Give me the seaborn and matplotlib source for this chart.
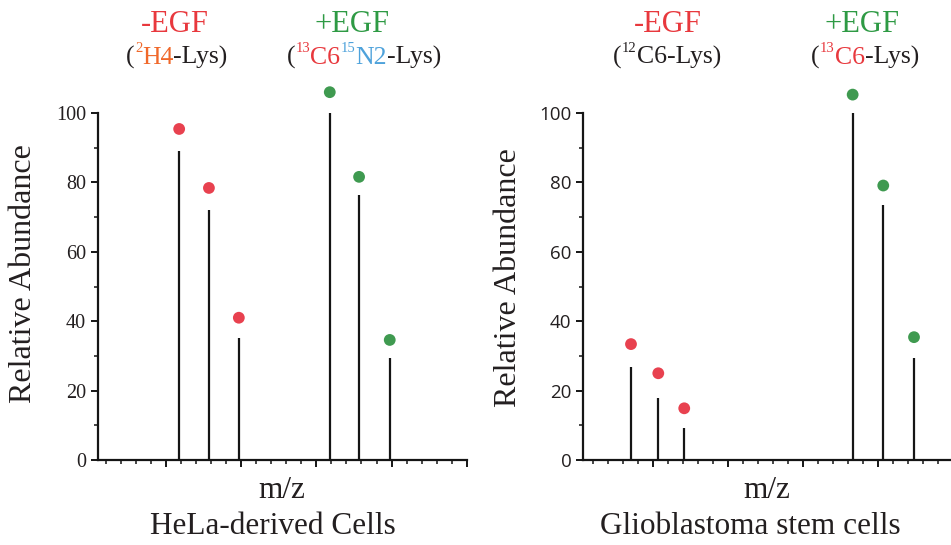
import matplotlib
matplotlib.use("Agg")
import matplotlib.pyplot as plt
import seaborn as sns
import pandas as pd
from matplotlib.ticker import MultipleLocator, FixedLocator
from matplotlib.transforms import IdentityTransform

# ---------------- data ----------------
groups = ["-EGF", "-EGF", "-EGF", "+EGF", "+EGF", "+EGF"]

hela_mz = [5.87, 7.85, 9.84, 15.89, 17.84, 19.88]
hela_peak = [89.0, 72.0, 35.3, 100.0, 76.3, 29.5]
hela_dot = [95.4, 78.4, 41.0, 106.0, 81.6, 34.6]

gsc_mz = [3.55, 5.37, 7.10, 18.33, 20.37, 22.42]
gsc_peak = [26.7, 18.0, 9.1, 100.0, 73.5, 29.5]
gsc_dot = [33.4, 25.0, 14.9, 105.3, 79.1, 35.4]

yticks_major = [0, 20, 40, 60, 80, 100]
yticks_minor = [10, 30, 50, 70, 90]
panel_titles = ["HeLa-derived Cells", "Glioblastoma stem cells"]
xlabel = "m/z"
ylabel = "Relative Abundance"

RED = "#e8414f"
GREEN = "#3f9a50"
TXT = "#231f20"
HDR_RED = "#e8383d"
HDR_GREEN = "#2e9a44"
ORANGE = "#f0682a"
BLUE = "#4ea2db"
SERIF = "Liberation Serif"

sns.set_theme(style="ticks")
plt.rcParams["font.family"] = [SERIF, "DejaVu Serif"]

W, H = 951, 545
fig = plt.figure(figsize=(W / 100, H / 100), dpi=100)

def px_axes(l, r, b_top, t_top):
    return fig.add_axes([l / W, (H - b_top) / H, (r - l) / W, (b_top - t_top) / H])

ax1 = px_axes(97.7, 466.7, 460, 78.3)
ax2 = px_axes(583.3, 950, 460, 78.3)

datasets = [
    (ax1, hela_mz, hela_peak, hela_dot, (0.45, 25.0), SERIF, 14.5),
    (ax2, gsc_mz, gsc_peak, gsc_dot, (0.37, 24.82), "Open Sans", 13.5),
]

for ax, mz, peak, dot, xl, tfont, tsize in datasets:
    df = pd.DataFrame({"mz": mz, "peak": peak, "dot": dot, "group": groups})
    ax.vlines(df["mz"], 0, df["peak"], color="#151515", lw=1.6)
    sns.scatterplot(data=df, x="mz", y="dot", hue="group",
                    palette={"-EGF": RED, "+EGF": GREEN}, s=72,
                    linewidth=0, legend=False, ax=ax, clip_on=False, zorder=3)
    ax.set_xlim(*xl)
    ax.set_ylim(0, 110)
    ax.set_xlabel("")
    ax.set_ylabel("")
    ax.set_yticks(yticks_major)
    ax.yaxis.set_minor_locator(FixedLocator(yticks_minor))
    ax.xaxis.set_major_locator(MultipleLocator(5))
    ax.xaxis.set_minor_locator(MultipleLocator(1))
    ax.tick_params(axis="both", which="major", direction="out", length=5,
                   width=1.4, color="#151515", pad=3.5)
    ax.tick_params(axis="both", which="minor", direction="out", length=3,
                   width=1.1, color="#151515")
    ax.tick_params(axis="x", labelbottom=False)
    for lab in ax.get_yticklabels():
        lab.set_fontfamily(tfont)
        lab.set_fontsize(tsize)
        lab.set_color(TXT)
    sns.despine(ax=ax)
    ax.spines["left"].set_bounds(0, 100)
    for s in ("left", "bottom"):
        ax.spines[s].set_linewidth(1.6)
        ax.spines[s].set_color("#151515")
    ax.set_facecolor("none")

# axis labels / titles as figure text in pixel coords (from top)
def ftext(x, y_top, s, **kw):
    fig.text(x / W, (H - y_top) / H, s, color=TXT, family=SERIF, **kw)

ftext(24, 274, ylabel, fontsize=23, rotation=90, ha="center", va="center")
ftext(509, 278, ylabel, fontsize=23, rotation=90, ha="center", va="center")
ftext(282, 490, xlabel, fontsize=22.5, ha="center", va="center")
ftext(767, 490, xlabel, fontsize=22.5, ha="center", va="center")
ftext(272.5, 527, panel_titles[0], fontsize=22.5, ha="center", va="center")
ftext(750, 527, panel_titles[1], fontsize=22.5, ha="center", va="center")

# rich multi-coloured headers
renderer = fig.canvas.get_renderer()

def rich(cx, base_top, pieces, size, sup_size=10.5, sup_raise=11.5):
    objs = []
    total = 0
    for t, c, sup in pieces:
        fs = sup_size if sup else size
        tx = fig.text(0, 0, t, color=c, fontsize=fs, family=SERIF,
                      transform=IdentityTransform(), ha="left", va="baseline")
        w = tx.get_window_extent(renderer).width
        objs.append((tx, w, sup))
        total += w
    x = cx - total / 2
    yb = H - base_top
    for tx, w, sup in objs:
        tx.set_position((x, yb + (sup_raise if sup else 0)))
        x += w

HDR = 22
SUB = 18.5
rich(175, 32, [("-EGF", HDR_RED, False)], HDR)
rich(352, 32, [("+EGF", HDR_GREEN, False)], HDR)
rich(668, 32, [("-EGF", HDR_RED, False)], HDR)
rich(862, 32, [("+EGF", HDR_GREEN, False)], HDR)

rich(177, 63.5, [("(", TXT, False), ("2", ORANGE, True), ("H4", ORANGE, False),
                 ("-Lys)", TXT, False)], SUB)
rich(364, 63.5, [("(", TXT, False), ("13", HDR_RED, True), ("C6", HDR_RED, False),
                 ("15", BLUE, True), ("N2", BLUE, False), ("-Lys)", TXT, False)], SUB)
rich(667, 63.5, [("(", TXT, False), ("12", TXT, True), ("C6-Lys)", TXT, False)], SUB)
rich(865, 63.5, [("(", TXT, False), ("13", HDR_RED, True), ("C6", HDR_RED, False),
                 ("-Lys)", TXT, False)], SUB)

fig.savefig("out.png", dpi=100)
